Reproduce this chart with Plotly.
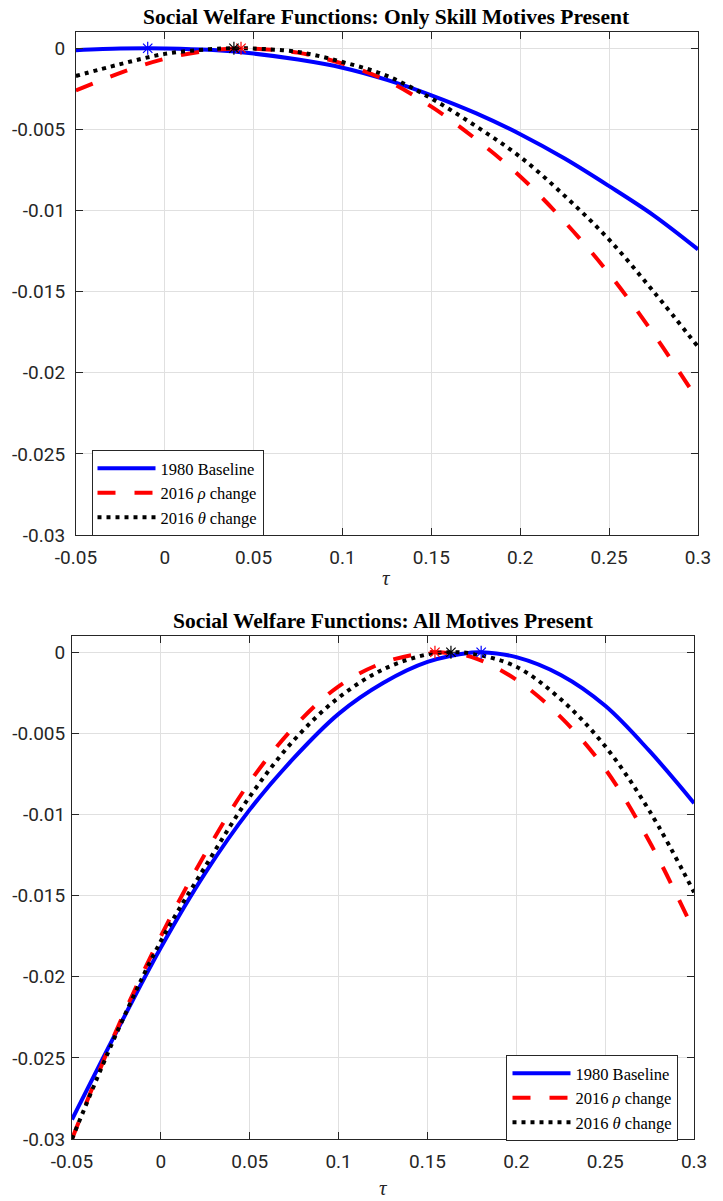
import plotly.graph_objects as go

# ---------------- data ----------------
tau = [-0.05, -0.025, 0.0, 0.025, 0.05, 0.075, 0.1, 0.125, 0.15, 0.175, 0.2, 0.225, 0.25, 0.275, 0.3]

# Top panel: Only skill motives present
skill_base = [-0.00012, -0.00002, -0.00001, -0.0001, -0.00033, -0.0007, -0.0012, -0.00195,
              -0.0029, -0.0040, -0.0053, -0.0068, -0.0085, -0.0103, -0.0124]
skill_rho = [-0.0026, -0.00152, -0.00065, -0.00014, -0.00003, -0.00027, -0.00095, -0.0020,
             -0.0036, -0.0056, -0.0079, -0.0107, -0.0139, -0.0176, -0.0217]
skill_theta = [-0.00171, -0.00098, -0.00035, -0.00006, -0.00002, -0.00023, -0.00085, -0.0017,
               -0.0031, -0.0048, -0.0067, -0.0091, -0.0118, -0.0150, -0.0184]
skill_peaks = {"base": -0.0096, "rho": 0.0429, "theta": 0.0389}

# Bottom panel: All motives present
all_base = [-0.0288, -0.0234, -0.0182, -0.0136, -0.0097, -0.0065, -0.0038, -0.0019,
            -0.0006, -0.00002, -0.0003, -0.0014, -0.0033, -0.0061, -0.0093]
all_rho = [-0.0300, -0.0233, -0.0175, -0.0124, -0.0080, -0.0046, -0.0021, -0.00065,
           -0.00001, -0.0003, -0.0017, -0.0040, -0.0072, -0.0117, -0.0172]
all_theta = [-0.0300, -0.0235, -0.0178, -0.0132, -0.0089, -0.0054, -0.0028, -0.00106,
             -0.00013, -0.00008, -0.0009, -0.0029, -0.0058, -0.0098, -0.0148]
all_peaks = {"base": 0.1802, "rho": 0.1542, "theta": 0.1632}

series_names = ["1980 Baseline", "2016 <i>ρ</i> change", "2016 <i>θ</i> change"]
x_tickvals = [-0.05, 0, 0.05, 0.1, 0.15, 0.2, 0.25, 0.3]
x_ticktext = ["-0.05", "0", "0.05", "0.1", "0.15", "0.2", "0.25", "0.3"]
y_tickvals = [0, -0.005, -0.01, -0.015, -0.02, -0.025, -0.03]
y_ticktext = ["0", "-0.005", "-0.01", "-0.015", "-0.02", "-0.025", "-0.03"]
titles = ["Social Welfare Functions: Only Skill Motives Present",
          "Social Welfare Functions: All Motives Present"]

# ---------------- styling ----------------
styles = {
    "base": dict(color="#0000ff", width=4, dash="solid"),
    "rho": dict(color="#ff0000", width=4, dash="18px,19px"),
    "theta": dict(color="#000000", width=4, dash="4px,5px"),
}


def with_peak(xs, ys, xp):
    pts = sorted(list(zip(xs, ys)) + [(xp, 0.0)])
    return [p[0] for p in pts], [p[1] for p in pts]


fig = go.Figure()

panels = [
    ("x", "y", "legend", {"base": skill_base, "rho": skill_rho, "theta": skill_theta}, skill_peaks),
    ("x2", "y2", "legend2", {"base": all_base, "rho": all_rho, "theta": all_theta}, all_peaks),
]

for xa, ya, lg, data, peaks in panels:
    for key, name in zip(["base", "rho", "theta"], series_names):
        xs, ys = with_peak(tau, data[key], peaks[key])
        st = styles[key]
        fig.add_trace(go.Scatter(
            x=xs, y=ys, mode="lines", name=name, xaxis=xa, yaxis=ya, legend=lg,
            line=dict(color=st["color"], width=st["width"], dash=st["dash"], shape="spline", smoothing=1.0),
        ))
    for key in ["base", "rho", "theta"]:
        fig.add_trace(go.Scatter(
            x=[peaks[key]], y=[0.0], mode="markers", xaxis=xa, yaxis=ya, showlegend=False,
            marker=dict(symbol="asterisk-open", size=11, color=styles[key]["color"],
                        line=dict(color=styles[key]["color"], width=1.2)),
        ))

L, R, T, B = 68, 13, 32, 62
W, H = 723, 1201
PW, PH = W - L - R, H - T - B


def px_x(px):
    return (px - L) / PW


def px_y(py):
    return (H - B - py) / PH


axis_common = dict(
    showline=True, linecolor="#262626", linewidth=1, mirror="ticks",
    ticks="inside", ticklen=7, tickwidth=1, tickcolor="#262626",
    showgrid=True, gridcolor="#e0e0e0", gridwidth=1, zeroline=False,
    tickfont=dict(family="Roboto, Arial, sans-serif", size=19, color="#262626"),
)

legend_font = dict(family="Liberation Serif, Times New Roman, serif", size=16.5, color="black")

fig.update_layout(
    width=W, height=H,
    margin=dict(l=L, r=R, t=T, b=B),
    paper_bgcolor="white", plot_bgcolor="white",
    xaxis=dict(axis_common, domain=[px_x(72), px_x(710)], range=[-0.05, 0.3],
               tickvals=x_tickvals, ticktext=x_ticktext, anchor="y", ticklabelstandoff=5),
    yaxis=dict(axis_common, domain=[px_y(535), px_y(32)], range=[-0.03, 0.001],
               tickvals=y_tickvals, ticktext=y_ticktext, anchor="x", ticklabelstandoff=6),
    xaxis2=dict(axis_common, domain=[px_x(68), px_x(706)], range=[-0.05, 0.3],
                tickvals=x_tickvals, ticktext=x_ticktext, anchor="y2", ticklabelstandoff=5),
    yaxis2=dict(axis_common, domain=[px_y(1139), px_y(636)], range=[-0.03, 0.001],
                tickvals=y_tickvals, ticktext=y_ticktext, anchor="x2", ticklabelstandoff=2),
    legend=dict(x=px_x(88), y=px_y(450), xanchor="left", yanchor="top",
                bordercolor="#262626", borderwidth=1, bgcolor="white",
                font=legend_font, tracegroupgap=0, itemwidth=58),
    legend2=dict(x=px_x(690), y=px_y(1055), xanchor="right", yanchor="top",
                 bordercolor="#262626", borderwidth=1, bgcolor="white",
                 font=legend_font, tracegroupgap=0, itemwidth=58),
    showlegend=True,
)

title_font = dict(family="Liberation Serif, Times New Roman, serif", size=21.5, color="black")
fig.add_annotation(text="<b>" + titles[0] + "</b>", xref="paper", yref="paper",
                   x=px_x(391), y=px_y(17), xanchor="center", yanchor="middle",
                   showarrow=False, font=title_font)
fig.add_annotation(text="<b>" + titles[1] + "</b>", xref="paper", yref="paper",
                   x=px_x(387), y=px_y(621), xanchor="center", yanchor="middle",
                   showarrow=False, font=title_font)
tau_font = dict(family="Liberation Serif, Times New Roman, serif", size=21, color="#262626")
fig.add_annotation(text="<i>τ</i>", xref="paper", yref="paper",
                   x=px_x(391), y=px_y(578), xanchor="center", yanchor="middle",
                   showarrow=False, font=tau_font)
fig.add_annotation(text="<i>τ</i>", xref="paper", yref="paper",
                   x=px_x(387), y=px_y(1188), xanchor="center", yanchor="middle",
                   showarrow=False, font=tau_font)

fig.write_html("out.html", config={"displayModeBar": False},
               post_script="document.body.style.margin='0';document.body.style.padding='0';")
